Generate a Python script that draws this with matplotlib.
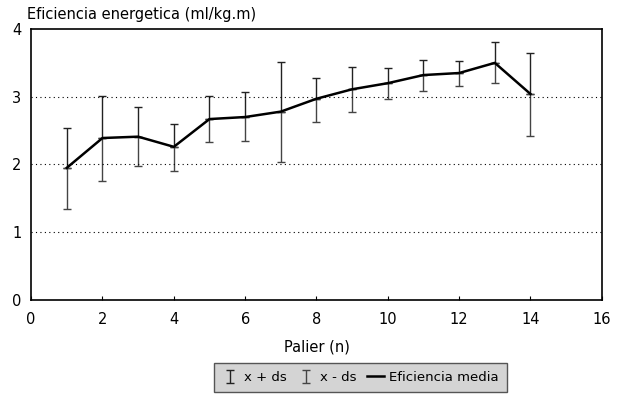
import numpy as np
import matplotlib.pyplot as plt

plt.rcParams['font.family'] = ['DejaVu Sans']

# Data
palier = [1, 2, 3, 4, 5, 6, 7, 8, 9, 10, 11, 12, 13, 14]
media = [1.95, 2.39, 2.41, 2.26, 2.67, 2.70, 2.78, 2.97, 3.11, 3.20, 3.32, 3.35, 3.50, 3.04]
mas_ds = [2.54, 3.01, 2.85, 2.60, 3.01, 3.07, 3.51, 3.28, 3.44, 3.43, 3.54, 3.53, 3.81, 3.65]
menos_ds = [1.34, 1.76, 1.98, 1.90, 2.33, 2.35, 2.04, 2.63, 2.78, 2.96, 3.09, 3.16, 3.21, 2.42]

x = np.array(palier)
m = np.array(media)
up = np.array(mas_ds) - m
lo = m - np.array(menos_ds)
zeros = np.zeros_like(m)

fig = plt.figure(figsize=(6.23, 4.03), dpi=100)
ax = fig.add_axes([0.05, 0.256, 0.916, 0.672])

# Error bars
h_up = ax.errorbar(x, m, yerr=[zeros, up], fmt='none', ecolor='#222222',
                   elinewidth=1.0, capsize=3, capthick=1.0, label='x + ds')
h_lo = ax.errorbar(x, m, yerr=[lo, zeros], fmt='none', ecolor='#444444',
                   elinewidth=1.0, capsize=3, capthick=1.0, label='x - ds')
h_m, = ax.plot(x, m, color='black', lw=1.8, label='Eficiencia media')

ax.set_xlim(0, 16)
ax.set_ylim(0, 4)
ax.set_xticks(range(0, 17, 2))
ax.set_yticks([0, 1, 2, 3, 4])
ax.tick_params(direction='in', length=3, labelsize=10.5, width=0.8, pad=9)
ax.tick_params(axis='y', length=0, pad=7)
for yv in [1, 2, 3]:
    ax.axhline(yv, color='black', lw=0.8, ls=(0, (1, 3)))
for s in ax.spines.values():
    s.set_linewidth(1.2)

ax.set_xlabel('Palier (n)', fontsize=10.5, labelpad=9)
fig.text(0.043, 0.965, 'Eficiencia energetica (ml/kg.m)', fontsize=10.5, ha='left', va='center')

leg = fig.legend(handles=[h_up, h_lo, h_m], loc='center', bbox_to_anchor=(0.578, 0.063),
                 ncol=3, fontsize=9.5, frameon=True, fancybox=False,
                 handlelength=1.3, handletextpad=0.4, columnspacing=0.8, borderpad=0.6)
leg.get_frame().set_facecolor('#d4d4d4')
leg.get_frame().set_edgecolor('#555555')
leg.get_frame().set_alpha(1)

fig.savefig('out.png', dpi=100)
